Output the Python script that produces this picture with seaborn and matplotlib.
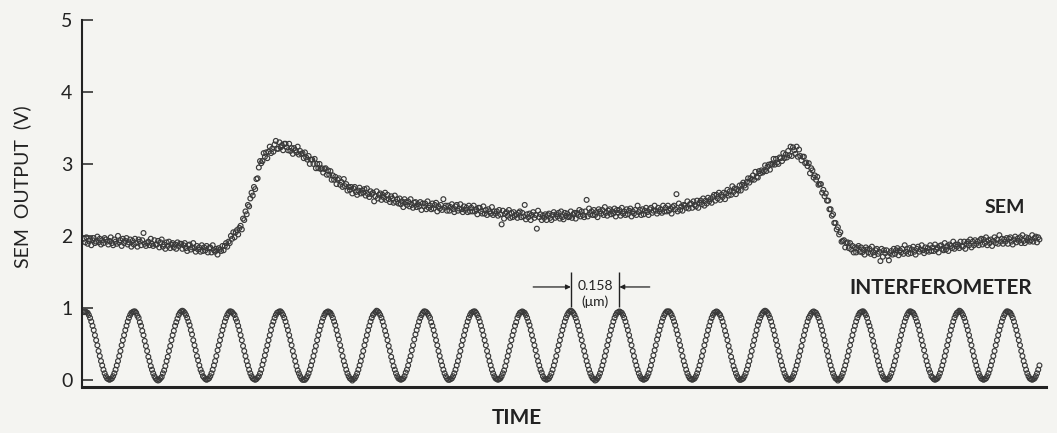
import numpy as np
import pandas as pd
import matplotlib
matplotlib.use("Agg")
import matplotlib.pyplot as plt
import seaborn as sns

# SEM detector output (V), one reading per time sample
SEM_OUTPUT = [
    1.96, 1.91, 1.98, 1.89, 1.93, 1.95, 1.87, 1.94, 1.97, 1.90, 1.92, 1.99, 1.91, 1.96, 1.88, 1.94, 1.90, 1.97, 1.95, 1.92,
    1.88, 1.93, 1.98, 1.90, 1.87, 1.95, 1.92, 1.89, 2.00, 1.91, 1.94, 1.86, 1.96, 1.90, 1.93, 1.97, 1.88, 1.91, 1.95, 1.85,
    1.93, 1.88, 1.96, 1.90, 1.85, 1.95, 1.92, 1.87, 1.94, 2.04, 1.89, 1.86, 1.90, 1.92, 1.87, 1.96, 1.89, 1.86, 1.94, 1.88,
    1.88, 1.93, 1.84, 1.91, 1.95, 1.85, 1.88, 1.82, 1.91, 1.86, 1.92, 1.83, 1.88, 1.90, 1.84, 1.88, 1.82, 1.91, 1.86, 1.89,
    1.89, 1.82, 1.87, 1.90, 1.83, 1.79, 1.87, 1.88, 1.81, 1.84, 1.90, 1.83, 1.78, 1.86, 1.81, 1.84, 1.78, 1.87, 1.79, 1.84,
    1.80, 1.86, 1.77, 1.83, 1.84, 1.77, 1.87, 1.80, 1.78, 1.82, 1.74, 1.83, 1.81, 1.79, 1.86, 1.80, 1.86, 1.90, 1.85, 1.92,
    1.90, 2.00, 1.96, 2.05, 1.98, 2.05, 2.08, 2.02, 2.11, 2.14, 2.09, 2.24, 2.22, 2.34, 2.30, 2.43, 2.41, 2.52, 2.60, 2.56,
    2.68, 2.65, 2.79, 2.80, 2.95, 3.04, 3.01, 3.04, 3.15, 3.10, 3.16, 3.08, 3.17, 3.24, 3.15, 3.21, 3.17, 3.27, 3.32, 3.21,
    3.21, 3.30, 3.23, 3.26, 3.19, 3.28, 3.28, 3.23, 3.19, 3.28, 3.18, 3.22, 3.14, 3.22, 3.19, 3.16, 3.24, 3.13, 3.18, 3.14,
    3.15, 3.08, 3.16, 3.09, 3.06, 3.11, 3.00, 3.06, 3.06, 3.00, 3.07, 2.94, 3.00, 2.94, 3.00, 2.93, 2.94, 2.88, 2.93, 2.94,
    2.85, 2.91, 2.85, 2.90, 2.78, 2.84, 2.78, 2.82, 2.72, 2.78, 2.80, 2.71, 2.75, 2.68, 2.79, 2.69, 2.72, 2.63, 2.68, 2.64,
    2.68, 2.59, 2.66, 2.68, 2.61, 2.57, 2.63, 2.67, 2.59, 2.63, 2.60, 2.65, 2.56, 2.66, 2.58, 2.54, 2.62, 2.58, 2.60, 2.48,
    2.55, 2.62, 2.52, 2.57, 2.59, 2.50, 2.57, 2.53, 2.60, 2.50, 2.57, 2.51, 2.47, 2.55, 2.52, 2.46, 2.56, 2.47, 2.51, 2.45,
    2.52, 2.44, 2.48, 2.40, 2.51, 2.47, 2.43, 2.48, 2.41, 2.51, 2.43, 2.39, 2.46, 2.47, 2.40, 2.44, 2.41, 2.47, 2.36, 2.45,
    2.41, 2.45, 2.37, 2.48, 2.39, 2.42, 2.37, 2.45, 2.38, 2.43, 2.46, 2.34, 2.41, 2.38, 2.43, 2.36, 2.51, 2.39, 2.42, 2.35,
    2.42, 2.35, 2.40, 2.44, 2.37, 2.33, 2.41, 2.43, 2.35, 2.38, 2.44, 2.37, 2.33, 2.41, 2.36, 2.39, 2.33, 2.42, 2.34, 2.39,
    2.34, 2.42, 2.34, 2.37, 2.30, 2.39, 2.39, 2.34, 2.31, 2.41, 2.31, 2.36, 2.29, 2.37, 2.34, 2.31, 2.40, 2.29, 2.34, 2.31,
    2.34, 2.28, 2.36, 2.30, 2.16, 2.35, 2.24, 2.31, 2.33, 2.28, 2.36, 2.25, 2.32, 2.26, 2.33, 2.28, 2.30, 2.25, 2.32, 2.34,
    2.26, 2.32, 2.27, 2.43, 2.23, 2.30, 2.26, 2.31, 2.22, 2.29, 2.33, 2.25, 2.29, 2.10, 2.35, 2.26, 2.30, 2.22, 2.28, 2.25,
    2.30, 2.22, 2.29, 2.31, 2.25, 2.22, 2.29, 2.33, 2.25, 2.30, 2.27, 2.32, 2.24, 2.34, 2.26, 2.23, 2.32, 2.28, 2.31, 2.26,
    2.27, 2.34, 2.25, 2.30, 2.32, 2.24, 2.32, 2.29, 2.36, 2.27, 2.34, 2.29, 2.26, 2.34, 2.50, 2.27, 2.38, 2.30, 2.34, 2.29,
    2.36, 2.29, 2.33, 2.26, 2.37, 2.34, 2.31, 2.36, 2.29, 2.40, 2.32, 2.28, 2.35, 2.37, 2.30, 2.34, 2.31, 2.38, 2.27, 2.36,
    2.32, 2.36, 2.28, 2.39, 2.31, 2.34, 2.29, 2.37, 2.30, 2.35, 2.38, 2.27, 2.34, 2.31, 2.36, 2.29, 2.42, 2.33, 2.36, 2.29,
    2.37, 2.30, 2.35, 2.39, 2.33, 2.29, 2.37, 2.39, 2.32, 2.35, 2.42, 2.35, 2.31, 2.39, 2.34, 2.37, 2.32, 2.42, 2.34, 2.39,
    2.34, 2.42, 2.35, 2.38, 2.31, 2.40, 2.42, 2.37, 2.58, 2.34, 2.45, 2.36, 2.41, 2.35, 2.43, 2.42, 2.39, 2.48, 2.38, 2.44,
    2.45, 2.39, 2.48, 2.43, 2.41, 2.49, 2.39, 2.46, 2.49, 2.44, 2.52, 2.42, 2.49, 2.45, 2.53, 2.48, 2.51, 2.46, 2.54, 2.57,
    2.49, 2.57, 2.52, 2.60, 2.50, 2.57, 2.54, 2.60, 2.51, 2.59, 2.64, 2.56, 2.62, 2.57, 2.69, 2.61, 2.66, 2.58, 2.65, 2.63,
    2.70, 2.63, 2.71, 2.74, 2.70, 2.67, 2.75, 2.80, 2.74, 2.80, 2.78, 2.84, 2.78, 2.89, 2.82, 2.81, 2.90, 2.87, 2.91, 2.88,
    2.90, 2.98, 2.90, 2.96, 2.99, 2.92, 3.00, 2.99, 3.07, 2.99, 3.07, 3.02, 3.00, 3.09, 3.08, 3.04, 3.15, 3.08, 3.13, 3.09,
    3.18, 3.12, 3.24, 3.11, 3.23, 3.19, 3.14, 3.24, 3.10, 3.20, 3.11, 3.05, 3.10, 3.10, 3.01, 3.02, 2.97, 3.01, 2.87, 2.94,
    2.91, 2.81, 2.84, 2.78, 2.82, 2.71, 2.72, 2.72, 2.60, 2.64, 2.55, 2.59, 2.49, 2.49, 2.37, 2.37, 2.28, 2.30, 2.18, 2.18,
    2.09, 2.12, 2.02, 2.05, 1.92, 1.93, 1.94, 1.84, 1.90, 1.91, 1.83, 1.90, 1.81, 1.86, 1.77, 1.84, 1.77, 1.83, 1.86, 1.78,
    1.84, 1.77, 1.81, 1.74, 1.84, 1.81, 1.77, 1.82, 1.75, 1.85, 1.77, 1.73, 1.80, 1.82, 1.75, 1.78, 1.65, 1.82, 1.71, 1.80,
    1.76, 1.80, 1.72, 1.66, 1.76, 1.79, 1.74, 1.82, 1.75, 1.80, 1.83, 1.73, 1.80, 1.77, 1.82, 1.75, 1.87, 1.78, 1.82, 1.75,
    1.83, 1.76, 1.81, 1.85, 1.78, 1.74, 1.82, 1.85, 1.78, 1.81, 1.87, 1.80, 1.76, 1.84, 1.79, 1.83, 1.78, 1.87, 1.79, 1.84,
    1.79, 1.88, 1.81, 1.84, 1.77, 1.86, 1.87, 1.82, 1.80, 1.90, 1.81, 1.86, 1.79, 1.88, 1.86, 1.83, 1.92, 1.82, 1.88, 1.85,
    1.88, 1.83, 1.92, 1.86, 1.85, 1.92, 1.82, 1.89, 1.92, 1.87, 1.95, 1.84, 1.92, 1.87, 1.94, 1.89, 1.92, 1.87, 1.94, 1.96,
    1.88, 1.95, 1.90, 1.98, 1.87, 1.94, 1.90, 1.95, 1.86, 1.93, 1.98, 1.90, 1.95, 1.89, 2.01, 1.92, 1.96, 1.89, 1.95, 1.92,
    1.97, 1.89, 1.96, 1.98, 1.92, 1.88, 1.95, 1.99, 1.91, 1.96, 1.93, 1.98, 1.90, 2.01, 1.93, 1.90, 1.98, 1.94, 1.97, 1.92,
    1.94, 2.01, 1.92, 1.97, 1.99, 1.91, 1.98, 1.95,
]

# Interferometer fringe signal (normalised), same time samples; one fringe per line
INTERFEROMETER = [
    .94,
    .95, .94, .93, .90, .86, .81, .75, .69, .62, .55, .48, .40, .33, .26, .20, .14, .09, .05, .02, .01,
    .00, .01, .02, .05, .09, .14, .20, .26, .33, .40, .48, .55, .62, .69, .75, .81, .86, .90, .93, .94,
    .95, .95, .93, .89, .86, .80, .75, .68, .62, .54, .47, .40, .32, .26, .19, .14, .09, .05, .02, .00,
    -.01, .00, .02, .04, .09, .13, .19, .26, .32, .40, .47, .55, .62, .68, .75, .80, .85, .90, .93, .95,
    .96, .95, .93, .90, .86, .81, .76, .69, .63, .55, .48, .41, .33, .27, .20, .14, .10, .05, .03, .01,
    .00, .01, .02, .05, .09, .14, .20, .26, .33, .41, .48, .55, .62, .69, .75, .81, .86, .90, .93, .95,
    .95, .94, .92, .90, .85, .81, .75, .69, .62, .55, .47, .40, .33, .26, .20, .14, .09, .05, .02, .01,
    .00, .01, .03, .05, .09, .14, .21, .27, .34, .41, .48, .55, .62, .69, .76, .81, .86, .90, .93, .94,
    .95, .95, .93, .90, .86, .81, .75, .69, .62, .55, .48, .40, .33, .26, .19, .13, .09, .05, .02, .00,
    .00, .00, .02, .05, .09, .14, .20, .26, .33, .40, .47, .55, .62, .69, .75, .81, .86, .90, .93, .94,
    .95, .94, .93, .90, .86, .81, .76, .69, .62, .56, .48, .41, .33, .26, .20, .14, .09, .05, .02, .01,
    -.01, .01, .02, .05, .09, .14, .20, .26, .33, .40, .48, .55, .62, .69, .75, .81, .86, .90, .92, .94,
    .96, .95, .93, .90, .86, .81, .75, .68, .62, .55, .47, .40, .32, .26, .19, .14, .09, .05, .02, .01,
    .00, .01, .02, .05, .10, .14, .20, .27, .33, .41, .48, .56, .63, .69, .75, .81, .86, .90, .93, .95,
    .95, .94, .92, .89, .86, .80, .75, .69, .62, .55, .48, .40, .33, .26, .20, .14, .09, .05, .02, .00,
    .00, .01, .02, .05, .09, .14, .20, .26, .33, .40, .48, .55, .62, .69, .75, .81, .86, .90, .93, .94,
    .95, .95, .93, .90, .86, .81, .75, .69, .62, .55, .48, .40, .33, .26, .20, .14, .09, .05, .02, .01,
    .00, .01, .02, .05, .09, .13, .19, .26, .33, .40, .47, .55, .62, .68, .75, .80, .86, .90, .93, .94,
    .95, .94, .93, .90, .86, .81, .76, .69, .62, .55, .48, .41, .33, .26, .20, .14, .10, .05, .02, .01,
    .00, .01, .02, .05, .09, .14, .20, .26, .33, .41, .48, .55, .62, .69, .75, .81, .86, .90, .93, .95,
    .96, .95, .93, .90, .86, .81, .75, .69, .62, .55, .47, .40, .33, .26, .20, .14, .09, .05, .02, .01,
    -.01, .00, .02, .05, .09, .14, .20, .26, .33, .40, .48, .55, .62, .69, .75, .81, .86, .90, .93, .94,
    .95, .94, .93, .90, .86, .81, .75, .69, .62, .55, .48, .40, .33, .26, .20, .14, .09, .05, .02, .01,
    .00, .01, .02, .05, .09, .14, .20, .27, .34, .41, .48, .56, .62, .69, .75, .81, .86, .90, .93, .95,
    .95, .95, .93, .90, .86, .81, .76, .69, .63, .55, .48, .41, .33, .26, .20, .14, .09, .05, .02, .01,
    .00, .01, .02, .05, .09, .14, .20, .26, .33, .40, .48, .55, .62, .69, .75, .81, .86, .90, .93, .94,
    .95, .94, .92, .90, .86, .81, .75, .68, .62, .55, .47, .40, .32, .26, .19, .14, .09, .05, .02, .00,
    .00, .01, .02, .05, .09, .14, .20, .26, .33, .40, .48, .55, .62, .69, .76, .81, .86, .90, .93, .95,
    .96, .95, .93, .90, .86, .81, .75, .69, .62, .55, .48, .40, .33, .26, .20, .14, .09, .05, .02, .01,
    .00, .01, .02, .05, .09, .14, .20, .26, .33, .40, .47, .55, .62, .69, .75, .81, .86, .89, .92, .94,
    .95, .94, .93, .90, .86, .81, .75, .69, .62, .55, .48, .40, .33, .26, .20, .14, .09, .05, .02, .01,
    -.01, .01, .02, .05, .09, .14, .20, .26, .33, .40, .48, .55, .62, .69, .75, .81, .86, .90, .93, .94,
    .95, .95, .93, .90, .86, .80, .75, .69, .62, .54, .47, .40, .33, .26, .20, .14, .09, .05, .02, .01,
    .00, .01, .02, .05, .09, .14, .20, .26, .33, .41, .48, .55, .62, .69, .75, .81, .86, .90, .93, .95,
    .95, .94, .93, .90, .86, .81, .76, .69, .62, .55, .48, .41, .33, .26, .20, .14, .10, .05, .03, .01,
    .00, .01, .02, .05, .09, .14, .20, .26, .33, .40, .48, .55, .62, .69, .75, .81, .86, .90, .93, .94,
    .96, .95, .93, .90, .86, .81, .75, .69, .62, .55, .48, .40, .33, .26, .20, .14, .09, .05, .02, .01,
    .00, .01, .02, .05, .09, .14, .20, .26, .33, .40, .48, .55, .62, .69, .75, .81, .86, .90, .93, .95,
    .95, .94, .93, .90, .86, .81, .75, .69, .62, .55, .48, .40, .33, .26, .20, .14, .09, .05, .02, .01,
    .00, .01, .02, .05, .09, .14, .20,
]

Y_TICKS = [0, 1, 2, 3, 4, 5]
FRINGE_PEAKS = (401, 441)      # two neighbouring fringe maxima spanning one period
FRINGE_TEXT = ("0.158", "(\u03bcm)")

assert len(SEM_OUTPUT) == len(INTERFEROMETER), (len(SEM_OUTPUT), len(INTERFEROMETER))
n = len(SEM_OUTPUT)
time = np.arange(n)

df = pd.concat([
    pd.DataFrame({"time": time, "volts": SEM_OUTPUT, "trace": "SEM"}),
    pd.DataFrame({"time": time, "volts": INTERFEROMETER, "trace": "INTERFEROMETER"}),
], ignore_index=True)

BG = "#f4f4f1"
INK = "#222222"
DOT = "#3a3a3a"

sns.set_theme(style="ticks")
plt.rcParams["font.family"] = ["Lato", "DejaVu Sans"]

W, H = 1057, 433
fig = plt.figure(figsize=(W / 100, H / 100), dpi=100, facecolor=BG)
ax = fig.add_axes([82 / W, 1 - 387 / H, (1046 - 82) / W, (387 - 20) / H])
ax.set_facecolor(BG)

sns.scatterplot(data=df, x="time", y="volts", ax=ax, marker="o", s=12,
                color=DOT, legend=False)
for coll in ax.collections:
    coll.set_facecolor("none")
    coll.set_edgecolor(DOT)
    coll.set_linewidth(0.85)

ax.set_xlim(-1.65, 792.4)
ax.set_ylim(-0.1, 5.0)
ax.set_yticks(Y_TICKS)
ax.set_xticks([])
ax.set_xlabel("")
ax.set_ylabel("")
ax.tick_params(axis="y", direction="in", length=8, width=1.1, colors=INK,
               labelsize=14, pad=7)
for side in ("top", "right"):
    ax.spines[side].set_visible(False)
ax.spines["left"].set_color(INK)
ax.spines["left"].set_linewidth(1.5)
ax.spines["bottom"].set_color(INK)
ax.spines["bottom"].set_linewidth(2.2)

# one-fringe period marker
x0, x1 = FRINGE_PEAKS
ax.vlines([x0, x1], 1.01, 1.50, color=INK, lw=1.0)
arrow = dict(arrowstyle="-|>", color=INK, lw=0.9, mutation_scale=7,
             shrinkA=0, shrinkB=0)
ax.annotate("", xy=(x0, 1.29), xytext=(x0 - 31, 1.29), arrowprops=arrow)
ax.annotate("", xy=(x1, 1.29), xytext=(x1 + 25, 1.29), arrowprops=arrow)
xm = (x0 + x1) / 2
ax.text(xm, 1.30, FRINGE_TEXT[0], ha="center", va="center", fontsize=10, color=INK)
ax.text(xm, 1.08, FRINGE_TEXT[1], ha="center", va="center", fontsize=10, color=INK)

# trace names
ax.text(775, 2.40, "SEM", ha="right", va="center", fontsize=14, color=INK,
        fontweight="bold")
ax.text(781, 1.28, "INTERFEROMETER", ha="right", va="center", fontsize=15,
        color=INK, fontweight="bold")

fig.text(517 / W, 1 - 418 / H, "TIME", ha="center", va="center", fontsize=15,
         color=INK, fontweight="bold")
fig.text(22 / W, 1 - 187 / H, "SEM  OUTPUT  (V)", ha="center", va="center",
         rotation=90, fontsize=14, color=INK)

fig.savefig("out.png", dpi=100, facecolor=BG)
